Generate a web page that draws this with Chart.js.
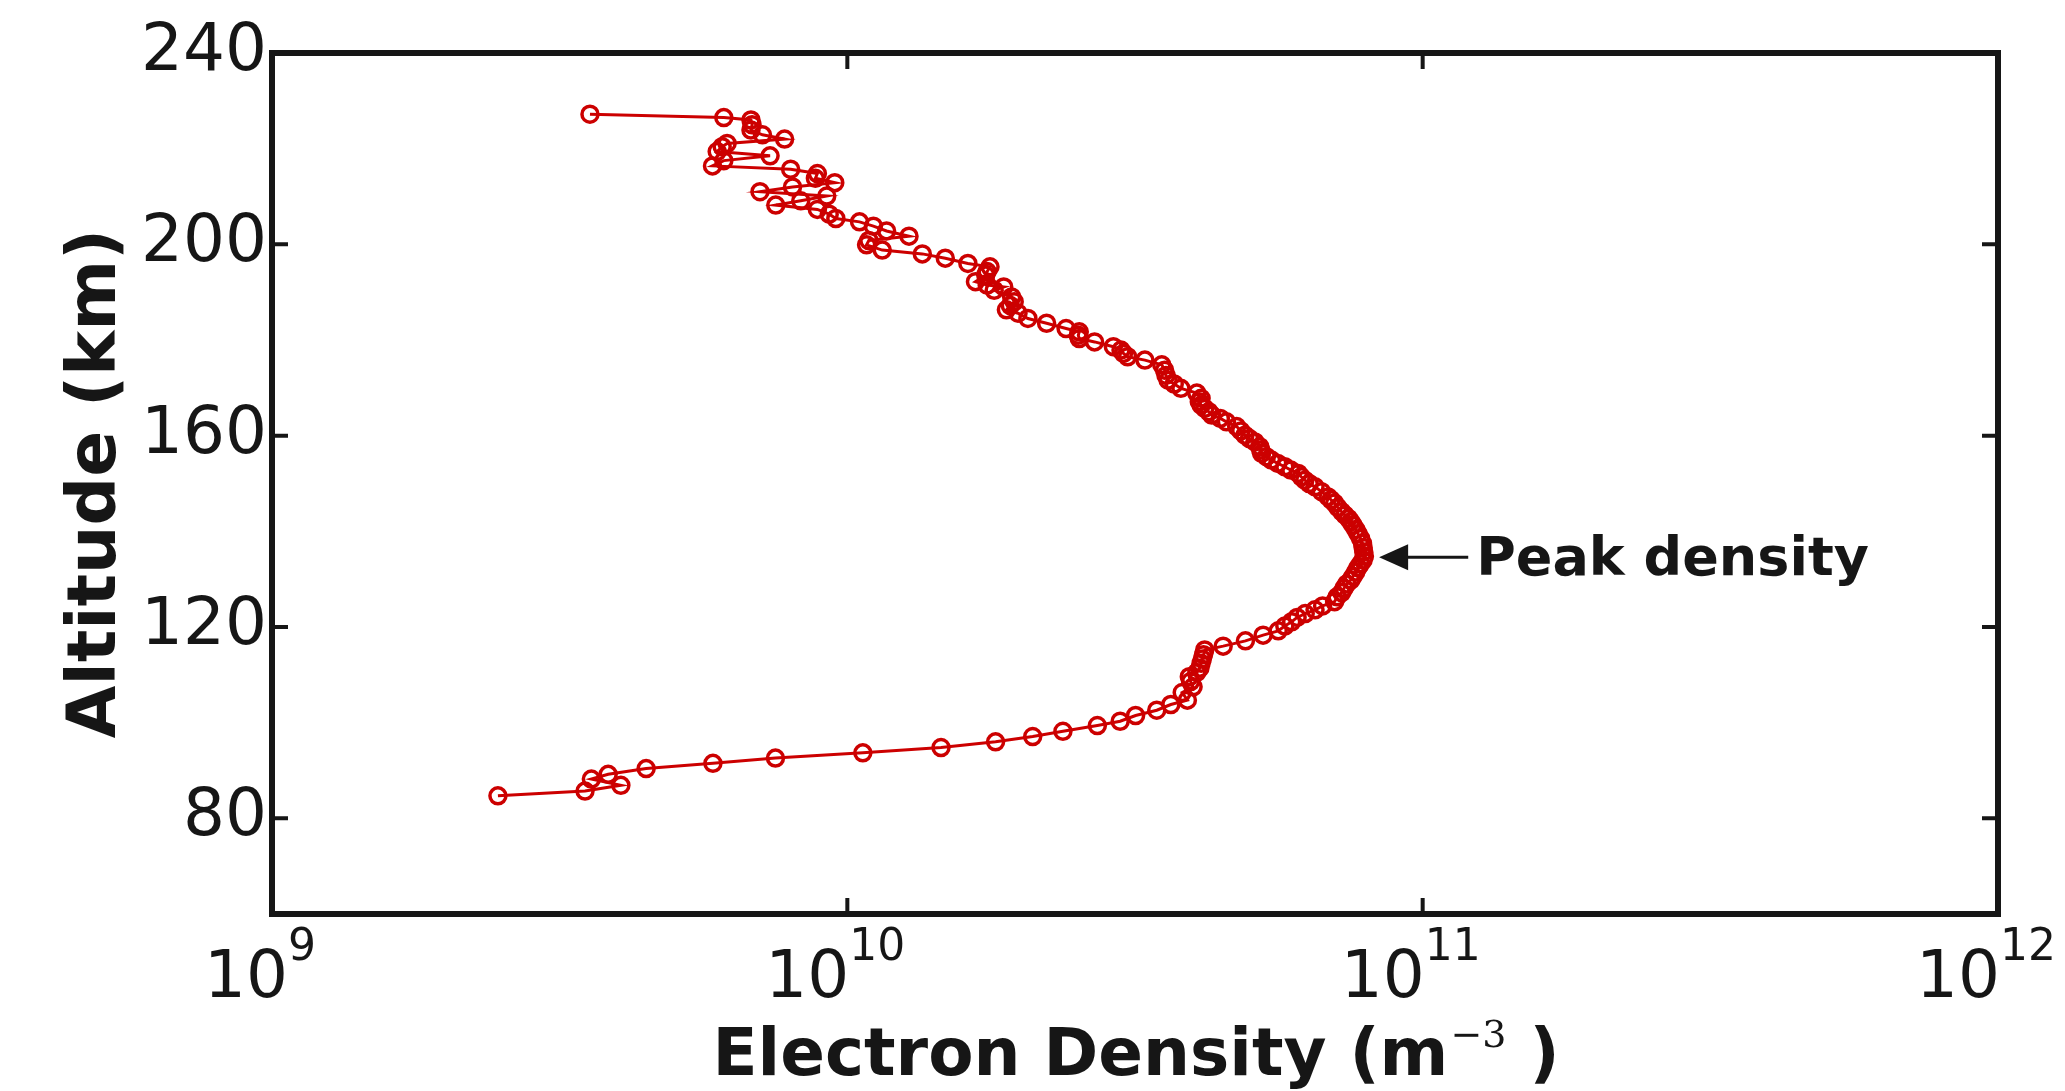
<!DOCTYPE html>
<html>
<head>
<meta charset="utf-8">
<script src="https://cdn.jsdelivr.net/npm/chart.js@4.4.1/dist/chart.umd.min.js"></script>
<style>
  body { margin: 0; background: #ffffff; }
  #grafico_perfil { display: block; }
</style>
</head>
<body>
<canvas id="grafico_perfil" width="2065" height="1091"></canvas>
<script>

// altitude (km), de baixo para cima
var altitudes = [
  84.7, 85.7, 86.9, 88.2, 89.2, 90.4, 91.5, 92.6, 93.7, 94.8,
  96.0, 97.1, 98.2, 99.4, 100.3, 101.5, 102.6, 103.8, 104.7, 106.3,
  107.5, 108.6, 109.6, 110.5, 111.4, 112.4, 113.3, 114.2, 115.2, 116.0,
  117.1, 118.3, 119.2, 120.2, 121.1, 122.0, 122.8, 123.6, 124.4, 125.3,
  126.3, 127.2, 128.1, 129.0, 129.8, 130.6, 131.5, 132.4, 133.2, 134.0,
  134.8, 135.7, 136.6, 137.5, 138.5, 139.5, 140.4, 141.3, 142.0, 142.7,
  143.4, 144.1, 145.0, 145.9, 146.6, 147.2, 148.3, 149.3, 150.0, 150.7,
  151.4, 152.1, 152.8, 153.5, 154.2, 154.9, 155.6, 156.3, 157.0, 157.7,
  158.7, 159.4, 160.1, 161.0, 161.9, 162.9, 163.6, 164.3, 165.0, 165.7,
  166.4, 167.1, 167.8, 168.9, 169.9, 170.8, 171.6, 172.6, 173.7, 174.8,
  175.8, 176.5, 177.2, 177.9, 178.6, 179.6, 180.3, 181.0, 181.7, 182.4,
  183.5, 184.5, 185.6, 186.3, 187.2, 188.0, 189.0, 190.4, 191.1, 191.5,
  192.2, 193.6, 194.3, 195.3, 196.0, 197.1, 198.0, 198.8, 199.9, 200.8,
  201.7, 202.8, 203.8, 204.7, 205.4, 206.3, 207.3, 208.2, 209.1, 210.1,
  211.0, 212.0, 212.9, 213.8, 214.8, 215.7, 216.4, 217.5, 218.5, 219.4,
  220.4, 221.1, 222.0, 222.9, 223.9, 225.0, 226.0, 226.5, 227.2
];

// densidade eletronica (m^-3)
var densidades = [
  2.47e9, 3.50e9, 4.04e9, 3.59e9, 3.84e9, 4.47e9, 5.84e9, 7.50e9, 1.064e10, 1.455e10,
  1.81e10, 2.10e10, 2.37e10, 2.72e10, 2.98e10, 3.17e10, 3.45e10, 3.65e10, 3.90e10, 3.82e10,
  3.99e10, 3.95e10, 3.93e10, 4.05e10, 4.10e10, 4.12e10, 4.14e10, 4.16e10, 4.18e10, 4.50e10,
  4.92e10, 5.28e10, 5.61e10, 5.76e10, 5.92e10, 6.05e10, 6.25e10, 6.50e10, 6.70e10, 7.03e10,
  7.10e10, 7.23e10, 7.30e10, 7.38e10, 7.50e10, 7.57e10, 7.65e10, 7.72e10, 7.80e10, 7.88e10,
  7.92e10, 7.90e10, 7.88e10, 7.86e10, 7.80e10, 7.72e10, 7.65e10, 7.57e10, 7.50e10, 7.43e10,
  7.33e10, 7.23e10, 7.12e10, 7.03e10, 6.93e10, 6.85e10, 6.67e10, 6.50e10, 6.35e10, 6.24e10,
  6.15e10, 6.08e10, 5.90e10, 5.76e10, 5.60e10, 5.46e10, 5.35e10, 5.25e10, 5.23e10, 5.21e10,
  5.11e10, 5.00e10, 4.91e10, 4.83e10, 4.75e10, 4.56e10, 4.45e10, 4.30e10, 4.25e10, 4.18e10,
  4.12e10, 4.09e10, 4.12e10, 4.05e10, 3.80e10, 3.70e10, 3.61e10, 3.58e10, 3.56e10, 3.52e10,
  3.29e10, 3.07e10, 3.02e10, 2.99e10, 2.90e10, 2.69e10, 2.53e10, 2.52e10, 2.53e10, 2.40e10,
  2.22e10, 2.06e10, 1.98e10, 1.89e10, 1.92e10, 1.95e10, 1.93e10, 1.80e10, 1.87e10, 1.75e10,
  1.67e10, 1.74e10, 1.75e10, 1.77e10, 1.62e10, 1.48e10, 1.35e10, 1.15e10, 1.08e10, 1.09e10,
  1.28e10, 1.17e10, 1.11e10, 1.05e10, 9.55e9, 9.30e9, 8.87e9, 7.51e9, 8.30e9, 9.21e9,
  7.05e9, 8.03e9, 9.51e9, 8.80e9, 8.87e9, 7.97e9, 5.83e9, 6.10e9, 7.34e9, 5.94e9,
  6.06e9, 6.18e9, 7.78e9, 7.12e9, 6.80e9, 6.83e9, 6.80e9, 6.10e9, 3.57e9
];

var xTicks = [1e9, 1e10, 1e11, 1e12];
var yTicks = [80, 120, 160, 200, 240];

var tituloY = 'Altitude (km)';
var tituloX = 'Electron Density (m';
var tituloXExpoente = '\u22123';
var tituloXFim = ' )';
var textoPico = 'Peak density';
var pontaSeta = { x: 8.4e10, y: 134.6 };
var fimSeta = { x: 1.2e11, y: 134.6 };

var corTexto = '#161616';

var molduraMatlab = {
  id: 'molduraMatlab',
  afterDraw: function(chart) {
    var ctx = chart.ctx;
    var area = chart.chartArea;
    var sx = chart.scales.x;
    var sy = chart.scales.y;
    ctx.save();

    // moldura
    ctx.strokeStyle = corTexto;
    ctx.lineWidth = 6;
    ctx.lineJoin = 'miter';
    ctx.strokeRect(area.left, area.top, area.right - area.left, area.bottom - area.top);

    // marcas dos ticks para dentro
    ctx.lineWidth = 4;
    ctx.beginPath();
    xTicks.forEach(function(v) {
      var px = sx.getPixelForValue(v);
      ctx.moveTo(px, area.bottom);
      ctx.lineTo(px, area.bottom - 16);
      ctx.moveTo(px, area.top);
      ctx.lineTo(px, area.top + 16);
    });
    yTicks.forEach(function(v) {
      var py = sy.getPixelForValue(v);
      ctx.moveTo(area.left, py);
      ctx.lineTo(area.left + 16, py);
      ctx.moveTo(area.right, py);
      ctx.lineTo(area.right - 16, py);
    });
    ctx.stroke();

    // rotulos 10^n
    ctx.fillStyle = corTexto;
    ctx.textAlign = 'left';
    ctx.textBaseline = 'alphabetic';
    xTicks.forEach(function(v) {
      var expoente = String(Math.round(Math.log10(v)));
      ctx.font = '66px "DejaVu Sans"';
      var wBase = ctx.measureText('10').width;
      ctx.font = '44px "DejaVu Sans"';
      var wExp = ctx.measureText(expoente).width;
      var px = sx.getPixelForValue(v);
      var x0 = px - (wBase + wExp) / 2 - 12;
      var base = area.bottom + 83;
      ctx.font = '66px "DejaVu Sans"';
      ctx.fillText('10', x0, base);
      ctx.font = '44px "DejaVu Sans"';
      ctx.fillText(expoente, x0 + wBase, base - 37);
    });

    // titulo do eixo x com expoente
    ctx.font = 'bold 66px "DejaVu Sans"';
    var w1 = ctx.measureText(tituloX).width;
    var w3 = ctx.measureText(tituloXFim).width;
    ctx.font = '38px "DejaVu Serif"';
    var w2 = ctx.measureText(tituloXExpoente).width;
    var inicio = (area.left + area.right) / 2 - (w1 + w2 + w3) / 2;
    var baseTitulo = area.bottom + 161;
    ctx.font = 'bold 66px "DejaVu Sans"';
    ctx.fillText(tituloX, inicio, baseTitulo);
    ctx.font = '38px "DejaVu Serif"';
    ctx.fillText(tituloXExpoente, inicio + w1 + 2, baseTitulo - 28);
    ctx.font = 'bold 66px "DejaVu Sans"';
    ctx.fillText(tituloXFim, inicio + w1 + w2 + 2, baseTitulo);

    // seta do pico
    var xa = sx.getPixelForValue(pontaSeta.x);
    var ya = sy.getPixelForValue(pontaSeta.y);
    var xb = sx.getPixelForValue(fimSeta.x);
    ctx.lineWidth = 3;
    ctx.beginPath();
    ctx.moveTo(xa + 20, ya);
    ctx.lineTo(xb, ya);
    ctx.stroke();
    ctx.beginPath();
    ctx.moveTo(xa, ya);
    ctx.lineTo(xa + 29, ya - 13);
    ctx.lineTo(xa + 29, ya + 13);
    ctx.closePath();
    ctx.fill();
    ctx.font = 'bold 54px "DejaVu Sans"';
    ctx.fillText(textoPico, xb + 8, ya + 18);

    ctx.restore();
  }
};

function plotarPerfil() {
  var pontos = altitudes.map(function(alt, i) {
    return { x: densidades[i], y: alt };
  });

  new Chart(document.getElementById('grafico_perfil'), {
    type: 'scatter',
    data: {
      datasets: [{
        data: pontos,
        showLine: true,
        borderColor: '#cc0000',
        borderWidth: 3,
        pointRadius: 8,
        pointBorderWidth: 3.5,
        pointBorderColor: '#cc0000',
        pointBackgroundColor: 'rgba(0,0,0,0)'
      }]
    },
    plugins: [molduraMatlab],
    options: {
      responsive: false,
      animation: false,
      devicePixelRatio: 1,
      layout: {
        padding: { top: 53, right: 67, bottom: 177, left: 0 }
      },
      plugins: {
        legend: { display: false },
        tooltip: { enabled: false }
      },
      scales: {
        x: {
          type: 'logarithmic',
          min: 1e9,
          max: 1e12,
          afterBuildTicks: function(scale) {
            scale.ticks = xTicks.map(function(v) { return { value: v }; });
          },
          ticks: { display: false },
          grid: { display: false, drawTicks: false, tickLength: 0 },
          border: { display: false }
        },
        y: {
          type: 'linear',
          min: 60,
          max: 240,
          afterBuildTicks: function(scale) {
            scale.ticks = yTicks.map(function(v) { return { value: v }; });
          },
          afterFit: function(scale) {
            scale.width = 272;
          },
          ticks: {
            color: corTexto,
            padding: 5,
            font: { family: 'DejaVu Sans', size: 66 },
            callback: function(v) { return String(v); }
          },
          grid: { display: false, drawTicks: false, tickLength: 0 },
          border: { display: false },
          title: {
            display: true,
            text: tituloY,
            color: corTexto,
            padding: { top: 57, bottom: 0 },
            font: { family: 'DejaVu Sans', size: 68, weight: 'bold' }
          }
        }
      }
    }
  });
}

plotarPerfil();
</script>
</body>
</html>
